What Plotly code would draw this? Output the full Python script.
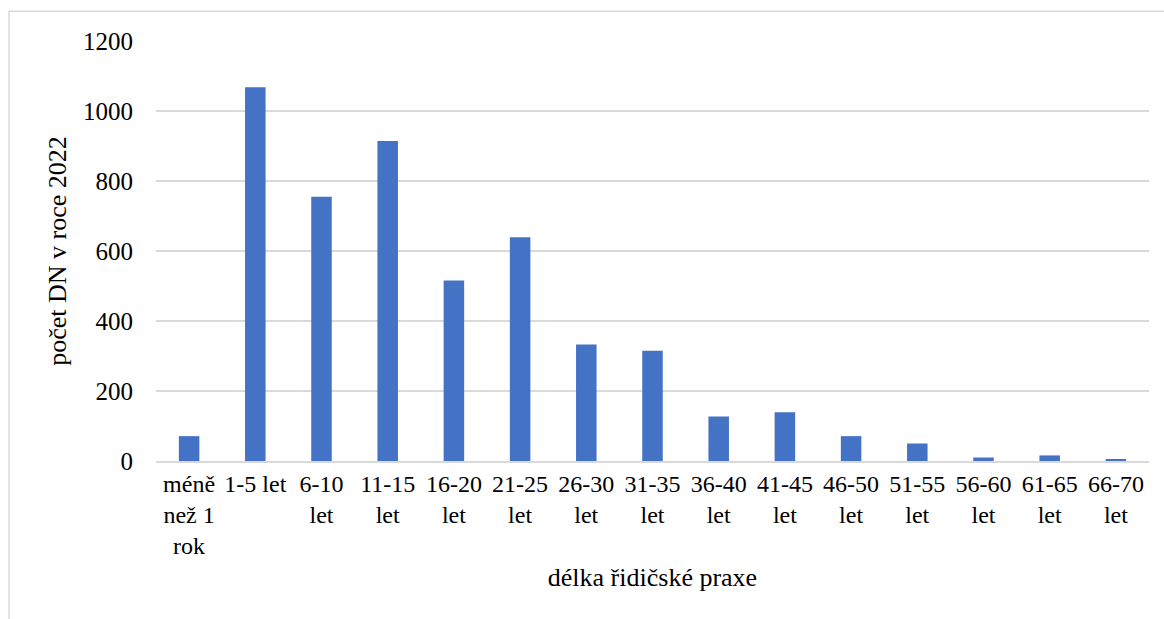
import plotly.graph_objects as go

# Kategorie délky řidičské praxe a počty dopravních nehod (DN) v roce 2022
categories = [
    "méně<br>než 1<br>rok", "1-5 let", "6-10<br>let", "11-15<br>let", "16-20<br>let",
    "21-25<br>let", "26-30<br>let", "31-35<br>let", "36-40<br>let", "41-45<br>let",
    "46-50<br>let", "51-55<br>let", "56-60<br>let", "61-65<br>let", "66-70<br>let",
]
counts = [71, 1068, 755, 914, 516, 639, 333, 315, 127, 139, 71, 50, 10, 16, 5]
y_ticks = [0, 200, 400, 600, 800, 1000, 1200]

FONT = "Liberation Serif"
BAR_COLOR = "#4472C4"
GRID_COLOR = "#D9D9D9"

fig = go.Figure(
    go.Bar(
        x=categories,
        y=counts,
        marker=dict(color=BAR_COLOR, line=dict(width=0)),
        hoverinfo="x+y",
    )
)

fig.update_layout(
    width=1164,
    height=619,
    margin=dict(l=156, r=15, t=41, b=158),
    paper_bgcolor="white",
    plot_bgcolor="white",
    bargap=0.69,
    showlegend=False,
    font=dict(family=FONT, color="#000000", size=24),
    shapes=[
        # světle šedý rámeček kolem celého grafu
        dict(
            type="rect", xref="paper", yref="paper",
            x0=-0.148, x1=1.03, y0=-0.45, y1=1.071,
            line=dict(color=GRID_COLOR, width=1.5), fillcolor="rgba(0,0,0,0)",
            layer="below",
        )
    ],
)

fig.update_xaxes(
    type="category",
    showgrid=False,
    showline=True,
    linecolor=GRID_COLOR,
    linewidth=2,
    ticks="",
    tickangle=0,
    tickfont=dict(size=24, family=FONT),
    title=dict(text="délka řidičské praxe", font=dict(size=26, family=FONT), standoff=10),
)

fig.update_yaxes(
    range=[0, 1200],
    tickvals=y_ticks,
    showgrid=True,
    gridcolor=GRID_COLOR,
    gridwidth=2,
    zeroline=False,
    showline=False,
    ticks="",
    ticklabelstandoff=22,
    tickfont=dict(size=25, family=FONT),
    title=dict(text="počet DN v roce 2022", font=dict(size=26, family=FONT), standoff=8),
)

fig.write_html("out.html")
